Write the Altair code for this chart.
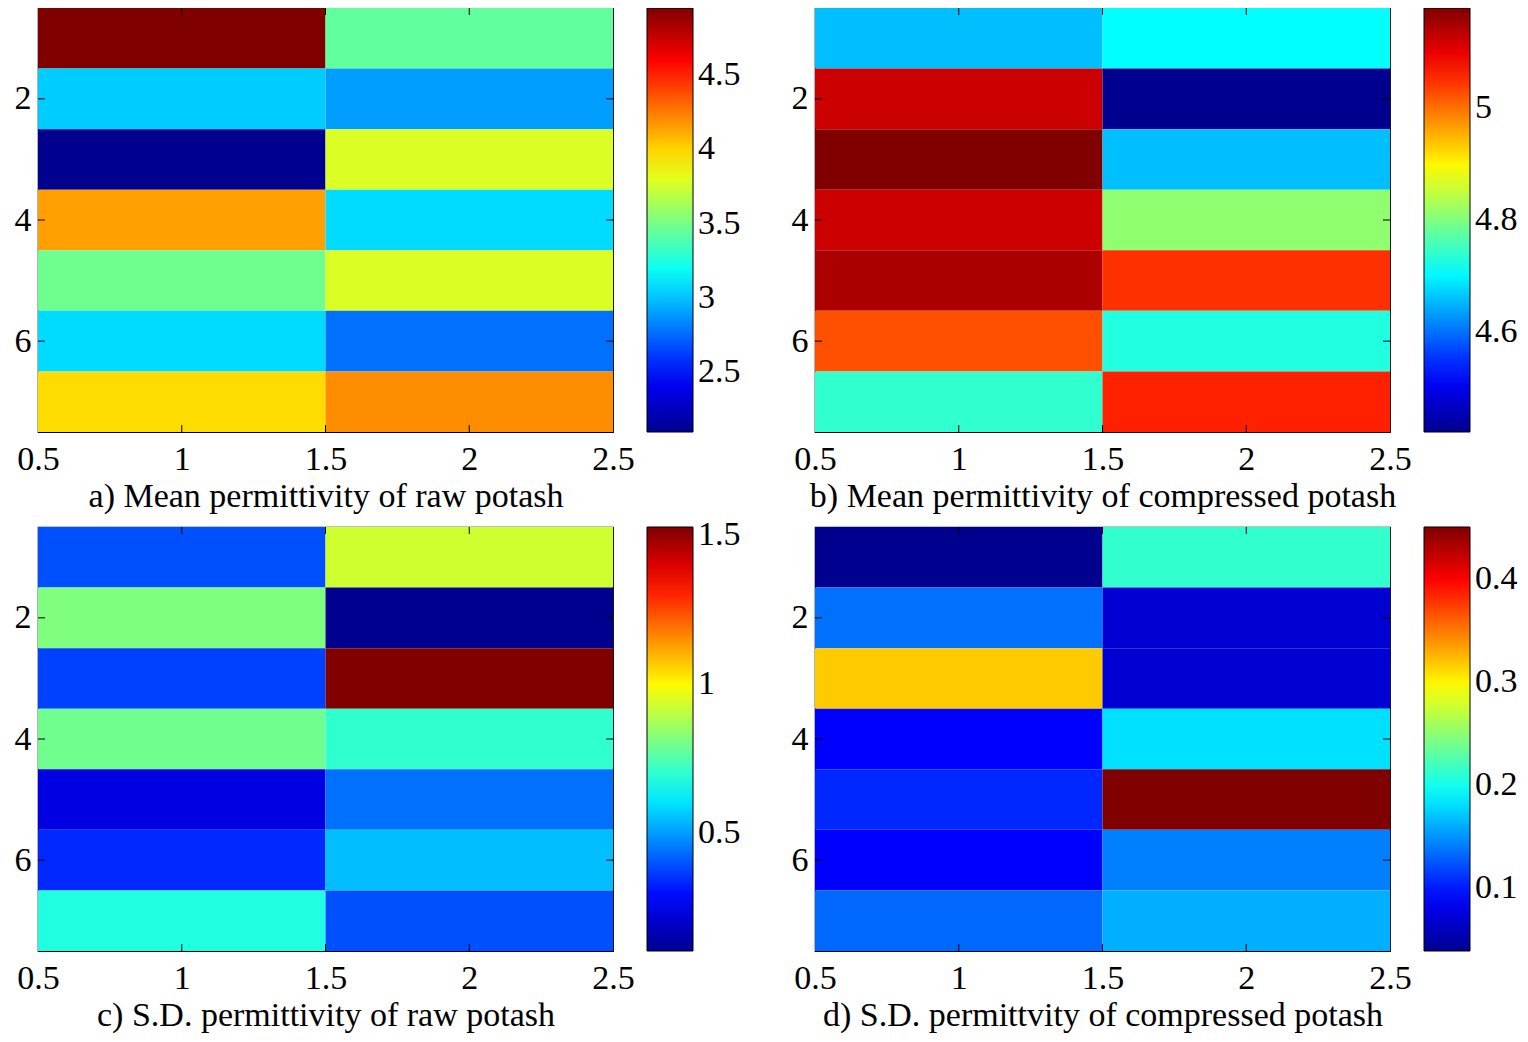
import altair as alt
import pandas as pd

FONT = "Liberation Serif"
FS = 34

rows = [1, 2, 3, 4, 5, 6, 7]
cols = [1, 2]

# a) Mean permittivity of raw potash
a_col1 = [4.95, 3.03, 2.10, 4.15, 3.48, 3.07, 3.98]
a_col2 = [3.44, 2.90, 3.78, 3.07, 3.78, 2.77, 4.20]
a_cticks = [2.5, 3, 3.5, 4, 4.5]
a_title = "a) Mean permittivity of raw potash"

# b) Mean permittivity of compressed potash
b_col1 = [4.657, 5.123, 5.18, 5.123, 5.147, 5.026, 4.741]
b_col2 = [4.705, 4.42, 4.657, 4.812, 5.049, 4.729, 5.061]
b_cticks = [4.6, 4.8, 5.0]
b_title = "b) Mean permittivity of compressed potash"

# c) S.D. permittivity of raw potash
c_col1 = [0.393, 0.816, 0.371, 0.794, 0.238, 0.337, 0.682]
c_col2 = [0.928, 0.104, 1.527, 0.705, 0.438, 0.547, 0.393]
c_cticks = [0.5, 1.0, 1.5]
c_title = "c) S.D. permittivity of raw potash"

# d) S.D. permittvity of compressed potash
d_col1 = [0.039, 0.136, 0.317, 0.090, 0.106, 0.090, 0.132]
d_col2 = [0.213, 0.070, 0.070, 0.181, 0.4505, 0.142, 0.161]
d_cticks = [0.1, 0.2, 0.3, 0.4]
d_title = "d) S.D. permittvity of compressed potash"

x_ticks = [0.5, 1, 1.5, 2, 2.5]
x_inner_ticks = [1, 1.5, 2]
y_ticks = [2, 4, 6]

# jet colormap anchors
JET_POS = [0.0, 0.125, 0.375, 0.625, 0.875, 1.0]
JET_COL = ["#00008f", "#0000ff", "#00ffff", "#ffff00", "#ff0000", "#800000"]

W, H = 575, 424
TL = 7


def panel(col1, col2, cticks, title):
    recs = []
    for c, vals in zip(cols, [col1, col2]):
        for r, v in zip(rows, vals):
            recs.append({"x1": c - 0.5, "x2": c + 0.5, "y1": r - 0.5, "y2": r + 0.5, "value": v})
    df = pd.DataFrame(recs)
    lo, hi = min(col1 + col2), max(col1 + col2)
    stops = [lo + f * (hi - lo) for f in JET_POS]

    xscale = alt.Scale(domain=[0.5, 2.5], nice=False, zero=False)
    yscale = alt.Scale(domain=[0.5, 7.5], nice=False, zero=False, reverse=True)
    xaxis = alt.Axis(values=x_ticks, format=".1~f", title=title, labelFlush=False,
                     labelOverlap=False, labelBound=False)
    yaxis = alt.Axis(values=y_ticks, format="d", title=None)

    heat = alt.Chart(df).mark_rect(strokeWidth=0).encode(
        x=alt.X("x1:Q", scale=xscale, axis=xaxis),
        x2="x2:Q",
        y=alt.Y("y1:Q", scale=yscale, axis=yaxis),
        y2="y2:Q",
        color=alt.Color(
            "value:Q",
            scale=alt.Scale(domain=stops, range=JET_COL, interpolate="rgb"),
            legend=alt.Legend(
                title=None, direction="vertical", orient="right",
                gradientLength=H, gradientThickness=46,
                gradientStrokeColor="black", gradientStrokeWidth=1,
                values=cticks, format=".1~f", labelFont=FONT, labelFontSize=FS,
                labelColor="black", labelOffset=5, offset=34, labelOverlap=False,
                padding=0,
            ),
        ),
    )

    xt = pd.DataFrame({"x1": x_inner_ticks})
    yt = pd.DataFrame({"y1": y_ticks})
    bot = alt.Chart(xt).mark_rule(color="black", strokeWidth=1).encode(
        x=alt.X("x1:Q", scale=xscale, axis=xaxis), y=alt.value(H), y2=alt.value(H - TL))
    top = alt.Chart(xt).mark_rule(color="black", strokeWidth=1).encode(
        x=alt.X("x1:Q", scale=xscale, axis=xaxis), y=alt.value(0), y2=alt.value(TL))
    left = alt.Chart(yt).mark_rule(color="black", strokeWidth=1).encode(
        y=alt.Y("y1:Q", scale=yscale, axis=yaxis), x=alt.value(0), x2=alt.value(TL))
    right = alt.Chart(yt).mark_rule(color="black", strokeWidth=1).encode(
        y=alt.Y("y1:Q", scale=yscale, axis=yaxis), x=alt.value(W - TL), x2=alt.value(W))

    return alt.layer(heat, bot, top, left, right).properties(width=W, height=H)


pa = panel(a_col1, a_col2, a_cticks, a_title)
pb = panel(b_col1, b_col2, b_cticks, b_title)
pc = panel(c_col1, c_col2, c_cticks, c_title)
pd_ = panel(d_col1, d_col2, d_cticks, d_title)

row1 = alt.hconcat(pa, pb, spacing=48).resolve_scale(color="independent").resolve_legend(color="independent")
row2 = alt.hconcat(pc, pd_, spacing=48).resolve_scale(color="independent").resolve_legend(color="independent")

chart = alt.vconcat(row1, row2, spacing=11).resolve_scale(color="independent").resolve_legend(
    color="independent"
).properties(
    padding={"left": 5, "top": -2, "right": 0, "bottom": 0}
).configure(
    background="white"
).configure_view(
    stroke="black", strokeWidth=1.2
).configure_axis(
    domain=False, grid=False, ticks=False,
    labelFont=FONT, labelFontSize=FS, labelColor="black",
    titleFont=FONT, titleFontSize=FS, titleFontWeight="normal", titleColor="black",
).configure_axisX(
    labelPadding=10, titlePadding=3,
).configure_axisY(
    labelPadding=7,
)

chart.save("out.html", embed_options={"renderer": "svg", "actions": False})
